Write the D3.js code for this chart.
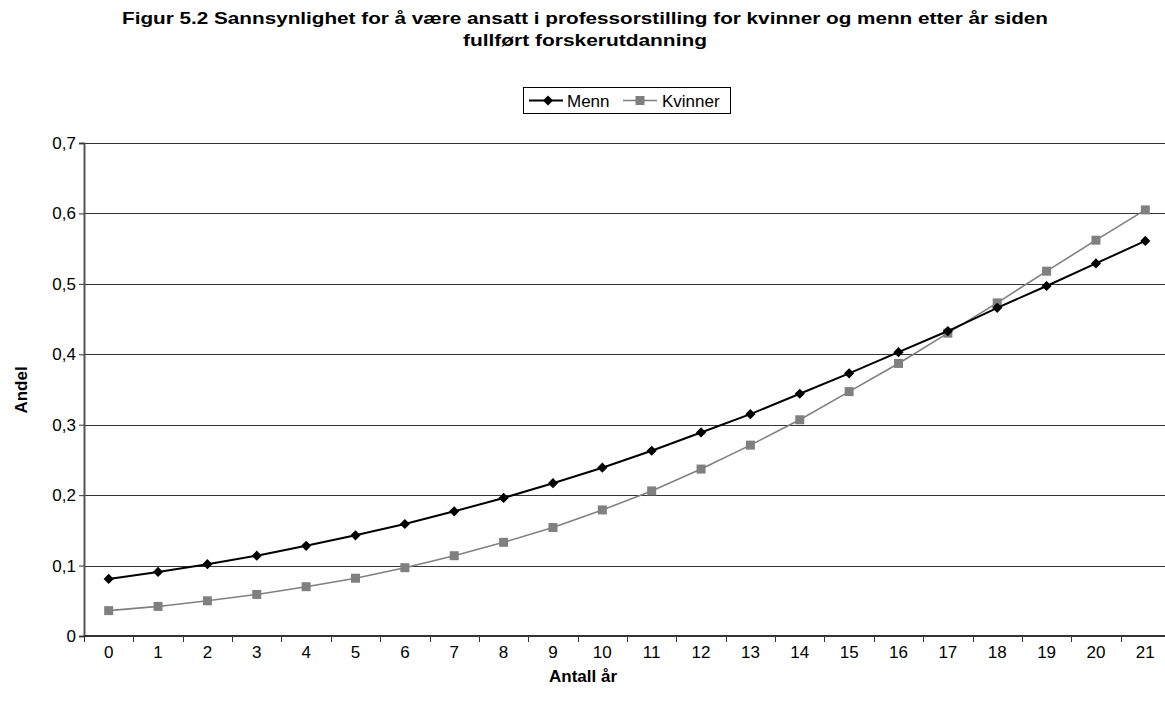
<!DOCTYPE html>
<html>
<head>
<meta charset="utf-8">
<script src="https://cdn.jsdelivr.net/npm/d3@7"></script>
<style>
  body { margin: 0; background: #fff; }
  text { font-family: "Liberation Sans", Arial, sans-serif; fill: #000; }
</style>
</head>
<body>
<div id="chart"></div>
<script>
const years = ["0","1","2","3","4","5","6","7","8","9","10","11","12","13","14","15","16","17","18","19","20","21"];
const menn = [0.081,0.091,0.102,0.114,0.128,0.143,0.159,0.177,0.196,0.217,0.239,0.263,0.289,0.315,0.344,0.373,0.403,0.433,0.466,0.497,0.529,0.561];
const kvinner = [0.036,0.042,0.050,0.059,0.070,0.082,0.097,0.114,0.133,0.154,0.179,0.206,0.237,0.271,0.307,0.347,0.387,0.430,0.473,0.518,0.562,0.605];
const yTicks = [0,0.1,0.2,0.3,0.4,0.5,0.6,0.7];

const W = 1165, H = 706;
const margin = {top: 143, right: -5, bottom: 70, left: 84};
const width = W - margin.left - margin.right,
  height = H - margin.top - margin.bottom;

var svg = d3.select("#chart").append("svg")
    .attr("width", W)
    .attr("height", H);

// title, two lines
var title = svg.append("text")
  .attr("text-anchor", "middle")
  .style("font-weight", "bold")
  .style("font-size", "17px");
title.append("tspan").attr("x", 585).attr("y", 24)
  .attr("textLength", 926).attr("lengthAdjust", "spacingAndGlyphs")
  .text("Figur 5.2 Sannsynlighet for å være ansatt i professorstilling for kvinner og menn etter år siden");
title.append("tspan").attr("x", 585).attr("y", 46)
  .attr("textLength", 244).attr("lengthAdjust", "spacingAndGlyphs")
  .text("fullført forskerutdanning");

var g = svg.append("g")
  .attr("transform", "translate(" + margin.left + "," + margin.top + ")");

var x = d3.scaleBand()
  .domain(years)
  .range([0, width]);

var y = d3.scaleLinear()
  .domain([0, 0.7])
  .range([height, 0]);

// gridlines
g.append("g")
  .selectAll("line")
  .data(yTicks.slice(1))
  .enter()
  .append("line")
    .attr("x1", 0).attr("x2", width)
    .attr("y1", function(d) { return Math.round(y(d)) + 0.5; })
    .attr("y2", function(d) { return Math.round(y(d)) + 0.5; })
    .attr("stroke", "#333")
    .attr("stroke-width", 1);

// y axis
var yAxis = g.append("g")
  .call(d3.axisLeft(y).tickValues(yTicks).tickSize(5).tickPadding(3)
    .tickFormat(function(d) { return d === 0 ? "0" : d3.format(".1f")(d).replace(".", ","); }));
yAxis.select(".domain").attr("stroke", "#555").attr("stroke-width", 2);
yAxis.selectAll(".tick line").attr("stroke", "#333");
yAxis.selectAll("text").style("font-size", "17px").attr("fill", "#000")
  .style("font-family", "Liberation Sans, Arial, sans-serif");

// x axis: ticks at category boundaries
var xAxis = g.append("g")
  .attr("transform", "translate(0," + height + ")");
xAxis.append("line")
  .attr("x1", 0).attr("x2", width).attr("y1", 0).attr("y2", 0)
  .attr("stroke", "#333").attr("stroke-width", 2);
xAxis.selectAll(".bt")
  .data(years)
  .enter()
  .append("line")
    .attr("class", "bt")
    .attr("x1", function(d) { return Math.round(x(d)) + 0.5; })
    .attr("x2", function(d) { return Math.round(x(d)) + 0.5; })
    .attr("y1", 0).attr("y2", 6)
    .attr("stroke", "#333");
xAxis.selectAll(".xl")
  .data(years)
  .enter()
  .append("text")
    .attr("class", "xl")
    .attr("x", function(d) { return x(d) + x.bandwidth() / 2; })
    .attr("y", 22)
    .attr("text-anchor", "middle")
    .style("font-size", "17px")
    .text(function(d) { return d; });

// axis titles
svg.append("text")
  .attr("x", 583).attr("y", 682)
  .attr("text-anchor", "middle")
  .style("font-weight", "bold").style("font-size", "17px")
  .text("Antall år");
svg.append("text")
  .attr("transform", "translate(27,390) rotate(-90)")
  .attr("text-anchor", "middle")
  .style("font-weight", "bold").style("font-size", "17px")
  .text("Andel");

var cx = function(d, i) { return x(years[i]) + x.bandwidth() / 2; };

var line = d3.line()
  .x(function(d, i) { return cx(d, i); })
  .y(function(d) { return y(d); });

// Kvinner series
g.append("path").datum(kvinner)
  .attr("d", line).attr("fill", "none")
  .attr("stroke", "#808080").attr("stroke-width", 1.6);
g.append("g").selectAll("rect")
  .data(kvinner)
  .enter()
  .append("rect")
    .attr("x", function(d, i) { return cx(d, i) - 4.5; })
    .attr("y", function(d) { return y(d) - 4.5; })
    .attr("width", 9).attr("height", 9)
    .attr("fill", "#808080");

// Menn series
g.append("path").datum(menn)
  .attr("d", line).attr("fill", "none")
  .attr("stroke", "#000").attr("stroke-width", 2);
var diamond = d3.symbol().type(d3.symbolDiamond2).size(66);
g.append("g").selectAll("path")
  .data(menn)
  .enter()
  .append("path")
    .attr("d", diamond)
    .attr("transform", function(d, i) { return "translate(" + cx(d, i) + "," + y(d) + ")"; })
    .attr("fill", "#000");

// legend
var leg = svg.append("g").attr("transform", "translate(523,87)");
leg.append("rect")
  .attr("x", 0.5).attr("y", 0.5).attr("width", 207).attr("height", 26)
  .attr("fill", "#fff").attr("stroke", "#000");
leg.append("line").attr("x1", 6).attr("x2", 40).attr("y1", 13.5).attr("y2", 13.5)
  .attr("stroke", "#000").attr("stroke-width", 2);
leg.append("path").attr("d", diamond).attr("transform", "translate(25,13.5)").attr("fill", "#000");
leg.append("text").attr("x", 44).attr("y", 20).style("font-size", "17px").text("Menn");
leg.append("line").attr("x1", 100).attr("x2", 134).attr("y1", 13.5).attr("y2", 13.5)
  .attr("stroke", "#808080").attr("stroke-width", 1.6);
leg.append("rect").attr("x", 112.5).attr("y", 9).attr("width", 9).attr("height", 9).attr("fill", "#808080");
leg.append("text").attr("x", 139).attr("y", 20).style("font-size", "17px").text("Kvinner");
</script>
</body>
</html>
